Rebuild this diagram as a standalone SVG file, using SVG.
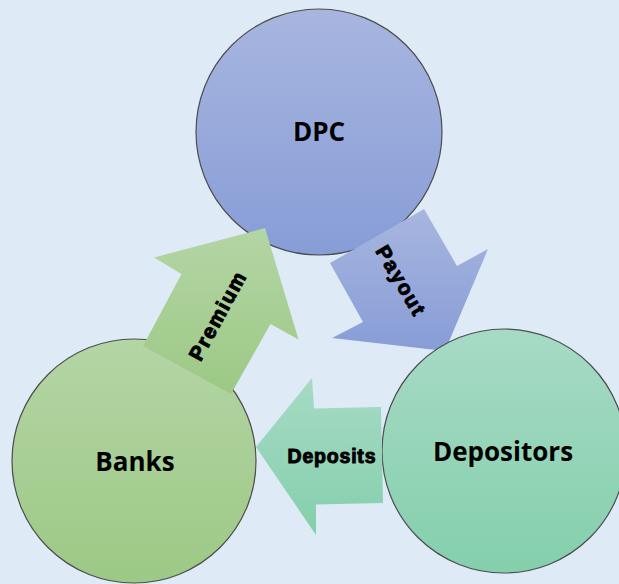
<svg xmlns="http://www.w3.org/2000/svg" width="619" height="584" viewBox="0 0 619 584">
  <defs>
    <linearGradient id="gBlue" x1="0" y1="0" x2="0" y2="1">
      <stop offset="0" stop-color="#a8b6df"/>
      <stop offset="1" stop-color="#879dd7"/>
    </linearGradient>
    <linearGradient id="gGreen" x1="0" y1="0" x2="0" y2="1">
      <stop offset="0" stop-color="#b4d5a5"/>
      <stop offset="1" stop-color="#9cc985"/>
    </linearGradient>
    <linearGradient id="gTeal" x1="0" y1="0" x2="0" y2="1">
      <stop offset="0" stop-color="#a7dac5"/>
      <stop offset="1" stop-color="#84cfac"/>
    </linearGradient>
    <style>
      .node { stroke: #4d4d4d; stroke-width: 1.2; }
      .arrow { stroke: none; }
      .nodeLabel { font-family: "Open Sans", "Liberation Sans", sans-serif; font-weight: 700; font-size: 26px; fill: #000; text-anchor: middle; }
      .flowLabel { font-family: "Liberation Sans", Arial, sans-serif; font-weight: 700; font-size: 19.5px; fill: #000; stroke: #000; stroke-width: 1; text-anchor: middle; dominant-baseline: central; }
      .big { font-size: 20.5px; }
    </style>
  </defs>

  <rect width="619" height="584" fill="#deeaf6"/>

  <g id="dpc">
    <circle class="node" cx="319" cy="132" r="123" fill="url(#gBlue)"/>
    <text class="nodeLabel" x="319" y="141">DPC</text>
  </g>

  <g id="banks">
    <circle class="node" cx="134" cy="461" r="122" fill="url(#gGreen)"/>
    <text class="nodeLabel" x="135" y="471">Banks</text>
  </g>

  <g id="connectors">
    <g id="payout">
      <polygon class="arrow" fill="url(#gBlue)" points="424,209 457,266 488,249 445,351 332,338 363,322 330,263"/>
      <text class="flowLabel big" transform="translate(401,280) rotate(59.5)" textLength="77" lengthAdjust="spacing">Payout</text>
    </g>
  </g>

  <g id="depositors">
    <circle class="node" cx="504" cy="451" r="122" fill="url(#gTeal)"/>
    <text class="nodeLabel" x="503" y="461">Depositors</text>
  </g>

  <g id="connectors-front">
    <g id="premium">
      <polygon class="arrow" fill="url(#gGreen)" points="265,228 298.5,339.5 270.5,324 231,394 143,346 181.5,274 154,257.5"/>
      <text class="flowLabel big" transform="translate(217,316) rotate(-61.5)" textLength="97" lengthAdjust="spacing">Premium</text>
    </g>
    <g id="deposits">
      <polygon class="arrow" fill="url(#gTeal)" points="256,447 312,378 314,408.5 381,407 383,503 316,504.5 316,535"/>
      <text class="flowLabel" x="331.5" y="456" textLength="88" lengthAdjust="spacing">Deposits</text>
    </g>
  </g>
</svg>
